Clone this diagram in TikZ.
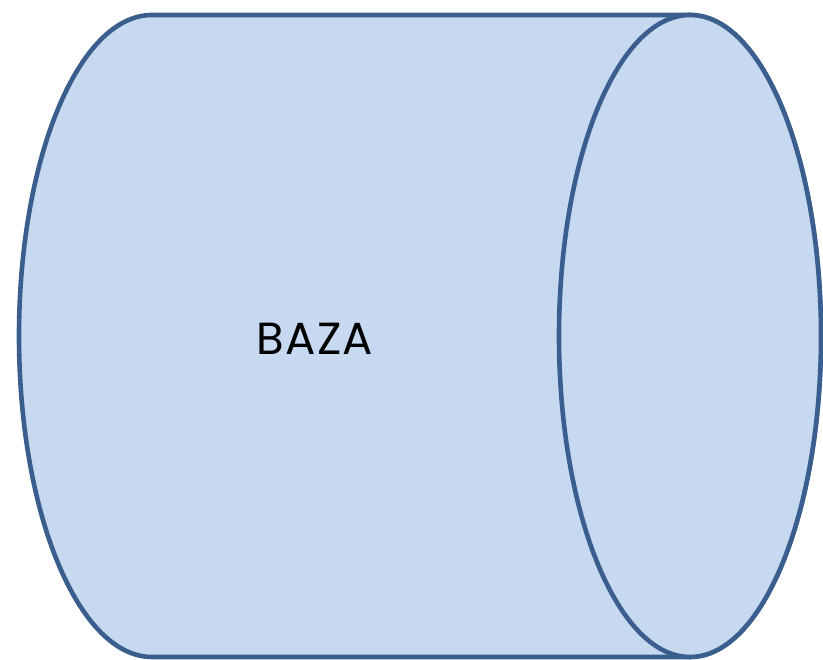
\documentclass[tikz,border=0pt]{standalone}
\usepackage{fontspec}
\setmainfont{Poppins}
\definecolor{cylfill}{HTML}{C6D9F1}
\definecolor{cylline}{HTML}{3A5E8E}
\begin{document}
\begin{tikzpicture}[x=1pt,y=1pt,
  cylbody/.style={fill=cylfill,draw=cylline,line width=4.6pt,line join=round},
  cyltext/.style={font=\fontsize{45}{50}\selectfont\addfontfeature{LetterSpace=3},text=black,inner sep=0pt,anchor=base}]
\useasboundingbox (0,0) rectangle (823,660);
\path[cylbody] (690,645) -- (152,645)
  arc[start angle=90,end angle=270,x radius=133,y radius=321]
  -- (690,3)
  arc[start angle=-90,end angle=90,x radius=131,y radius=321] -- cycle;
\draw[cylbody] (690,324) ellipse [x radius=131, y radius=321];
\node[cyltext] (label) at (315,305) {BAZA};
\end{tikzpicture}
\end{document}
